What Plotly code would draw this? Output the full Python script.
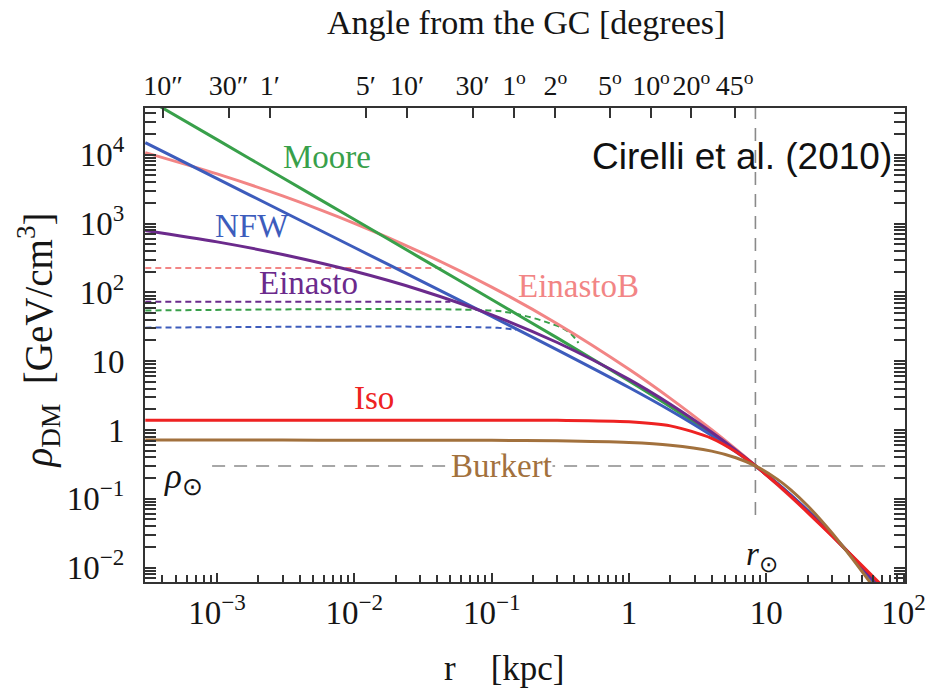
import math
import plotly.graph_objects as go

# ---------------- data ----------------
r_kpc = [3e-4, 1e-3, 3e-3, 0.01, 0.03, 0.1, 0.3, 1, 2, 4, 6, 8.33, 12, 15, 20, 30, 50, 80]

rho_nfw = [14977, 4493, 1497, 448.9, 149.4, 44.57, 14.62, 4.147, 1.919, 0.8294, 0.4826,
           0.2999, 0.1683, 0.1149, 0.0679, 0.03016, 0.009676, 0.003072]
rho_moore = [67000, 16590, 4638, 1145.7, 320.2, 78.83, 21.78, 5.169, 2.183, 0.8747, 0.4923,
             0.3000, 0.1662, 0.1131, 0.06681, 0.02990, 0.00976, 0.003154]
rho_einasto = [793.7, 542.2, 355.5, 202.3, 108.3, 47.08, 18.67, 5.445, 2.368, 0.9277, 0.5083,
               0.3028, 0.1643, 0.1109, 0.06537, 0.02964, 0.010098, 0.003439]
rho_einastob = [10767, 5279, 2522, 1007.2, 389.0, 119.2, 35.0, 7.62, 2.881, 1.0068, 0.5242,
                0.3024, 0.1602, 0.1072, 0.0630, 0.02889, 0.01029, 0.003777]
rho_iso = [1.387, 1.387, 1.387, 1.387, 1.387, 1.3863, 1.3805, 1.3183, 1.1477, 0.7563, 0.4822,
           0.3004, 0.1631, 0.10897, 0.06348, 0.02895, 0.010562, 0.004145]
rho_burkert = [0.712, 0.7118, 0.7118, 0.7114, 0.7103, 0.7064, 0.6951, 0.6558, 0.6000, 0.4921,
               0.3947, 0.2999, 0.1928, 0.13575, 0.07908, 0.0320, 0.008686, 0.002382]

# dashed (smoothed) profiles
dash_einastob_r = [3e-4, 0.045]
dash_einastob_rho = [226, 226]
dash_einasto_r = [3e-4, 0.05]
dash_einasto_rho = [73, 73]
dash_moore_r = [3e-4, 0.1, 0.14, 0.2, 0.26, 0.33, 0.385, 0.428]
dash_moore_rho = [54.5, 54.5, 50, 42.5, 36, 30, 24, 18.4]
dash_nfw_r = [3e-4, 0.11, 0.15]
dash_nfw_rho = [30.7, 30.5, 28.5]

R_SUN = 8.33      # kpc
RHO_SUN = 0.3     # GeV/cm^3

# top-axis angles (degrees) and labels
angle_deg = [10 / 3600, 30 / 3600, 1 / 60, 5 / 60, 10 / 60, 30 / 60, 1, 2, 5, 10, 20, 45]
angle_labels = ["10″", "30″", "1′", "5′", "10′", "30′", "1<sup>o</sup>", "2<sup>o</sup>",
                "5<sup>o</sup>", "10<sup>o</sup>", "20<sup>o</sup>", "45<sup>o</sup>"]

x_tickvals = [1e-3, 1e-2, 1e-1, 1, 10, 100]
x_ticktext = ["10<sup>−3</sup>", "10<sup>−2</sup>", "10<sup>−1</sup>", "1", "10", "10<sup>2</sup>"]
y_tickvals = [1e-2, 1e-1, 1, 10, 100, 1e3, 1e4]
y_ticktext = ["10<sup>−2</sup>", "10<sup>−1</sup>", "1", "10", "10<sup>2</sup>", "10<sup>3</sup>",
              "10<sup>4</sup>"]

# ---------------- styling ----------------
C_MOORE = "#38a04a"
C_NFW = "#3d5cbc"
C_EINB = "#f28585"
C_EIN = "#6b2a8c"
C_ISO = "#ee2222"
C_BURK = "#a2713d"
C_REF = "#8a8a8a"
TXT = "#151515"
SERIF = "Liberation Serif, Times New Roman, serif"

XR = [-3.525, 2.01]
YR = [-2.21, 4.68]

fig = go.Figure()

# reference dashed lines
fig.add_trace(go.Scatter(x=[9.2e-4, 200], y=[RHO_SUN, RHO_SUN], mode="lines",
                         line=dict(color=C_REF, width=1.6, dash="13px,9px"),
                         hoverinfo="skip", showlegend=False))
fig.add_trace(go.Scatter(x=[R_SUN, R_SUN], y=[0.058, 1e6], mode="lines",
                         line=dict(color=C_REF, width=1.6, dash="13px,9px"),
                         hoverinfo="skip", showlegend=False))

# dashed smoothed profiles
for xs, ys, col in [(dash_einastob_r, dash_einastob_rho, C_EINB),
                    (dash_einasto_r, dash_einasto_rho, C_EIN),
                    (dash_moore_r, dash_moore_rho, C_MOORE),
                    (dash_nfw_r, dash_nfw_rho, C_NFW)]:
    fig.add_trace(go.Scatter(x=xs, y=ys, mode="lines",
                             line=dict(color=col, width=2, dash="6px,4px", shape="spline"),
                             hoverinfo="skip", showlegend=False))

# solid profiles
for ys, col, name in [(rho_einastob, C_EINB, "EinastoB"),
                      (rho_moore, C_MOORE, "Moore"),
                      (rho_nfw, C_NFW, "NFW"),
                      (rho_einasto, C_EIN, "Einasto"),
                      (rho_iso, C_ISO, "Iso"),
                      (rho_burkert, C_BURK, "Burkert")]:
    fig.add_trace(go.Scatter(x=r_kpc, y=ys, mode="lines", name=name,
                             line=dict(color=col, width=3, shape="spline", smoothing=0.8),
                             showlegend=False))

# invisible trace to activate top axis
fig.add_trace(go.Scatter(x=[R_SUN], y=[RHO_SUN], xaxis="x2", mode="markers",
                         marker=dict(opacity=0), hoverinfo="skip", showlegend=False))

top_tickvals = [R_SUN * math.sin(math.radians(a)) for a in angle_deg]

def minor_vals(k0, k1):
    return [m * 10 ** k for k in range(k0, k1 + 1) for m in range(2, 10)]

axis_common = dict(type="log", showgrid=False, zeroline=False, color=TXT,
                   tickfont=dict(family=SERIF, size=33, color=TXT))

fig.update_layout(
    width=938, height=696,
    margin=dict(l=145, r=23, t=108, b=114),
    paper_bgcolor="white", plot_bgcolor="white",
    showlegend=False,
    font=dict(family=SERIF, color=TXT),
    xaxis=dict(**axis_common, range=XR, tickmode="array", tickvals=x_tickvals,
               ticktext=x_ticktext, ticks="inside", ticklen=9, tickwidth=1.5,
               tickcolor="#333", showline=True, linecolor="#333", linewidth=2, mirror=True,
               tickangle=0, ticklabelstandoff=0,
               minor=dict(tickmode="array", tickvals=minor_vals(-4, 1), ticks="inside",
                          ticklen=7, tickwidth=1.5, tickcolor="#333", showgrid=False)),
    yaxis=dict(**axis_common, range=YR, tickmode="array", tickvals=y_tickvals,
               ticktext=y_ticktext, ticks="inside", ticklen=11, tickwidth=1.5,
               tickcolor="#333", showline=True, linecolor="#333", linewidth=2,
               mirror="allticks", ticklabelstandoff=12,
               minor=dict(tickmode="array", tickvals=minor_vals(-3, 4), ticks="inside",
                          ticklen=7, tickwidth=1.5, tickcolor="#333", showgrid=False)),
    xaxis2=dict(type="log", overlaying="x", side="top", range=XR, tickmode="array",
                tickvals=top_tickvals, ticktext=angle_labels, ticks="inside", ticklen=10,
                tickwidth=1.5, tickcolor="#333", showline=False, showgrid=False,
                zeroline=False, tickangle=0, ticklabelstandoff=6,
                tickfont=dict(family=SERIF, size=28, color=TXT)),
)

def px2paper(px, py):
    return (px - 145) / 770.0, (582 - py) / 474.0

def label(txt, px, py, size, color, family=SERIF, bg=None, angle=0, xanchor="center"):
    ax, ay = px2paper(px, py)
    fig.add_annotation(x=ax, y=ay, xref="paper", yref="paper", text=txt, showarrow=False,
                       xanchor=xanchor, yanchor="middle", textangle=angle,
                       font=dict(family=family, size=size, color=color),
                       bgcolor=bg if bg else "rgba(0,0,0,0)", borderpad=0)

label("Moore", 329, 157, 33, C_MOORE)
label("NFW", 253, 226, 33, C_NFW)
label("Einasto", 311, 283, 33, C_EIN)
label("EinastoB", 584, 286, 33, C_EINB)
label("Iso", 377, 398, 33, C_ISO)
label("Burkert", 506, 466, 33, C_BURK, bg="white")

# rho_sun, r_sun labels
label("<i>ρ</i><sub>⊙</sub>", 184, 478, 35, TXT)
label("<i>r</i><sub>⊙</sub>", 770, 556, 33, TXT)

# Cirelli label
label("Cirelli et al. (2010)", 903, 156, 37, "#111",
      family="Liberation Sans, Arial, sans-serif", xanchor="right")

# axis titles
label("Angle from the GC [degrees]", 531, 22, 34, TXT)
label("r&nbsp;&nbsp;&nbsp;&nbsp;[kpc]", 509, 668, 35, TXT)
label("<i>ρ</i><sub>DM</sub>&nbsp;&nbsp;[GeV/cm<sup>3</sup>]", 37, 340, 39, TXT, angle=-90)

fig.write_html("out.html")
